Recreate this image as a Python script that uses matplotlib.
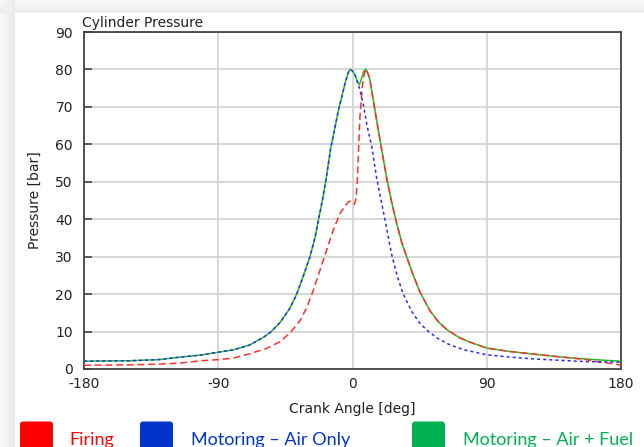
import numpy as np
import matplotlib
matplotlib.use("Agg")
import matplotlib.pyplot as plt
from matplotlib.patches import FancyBboxPatch
from matplotlib.transforms import IdentityTransform

# ---------------- data ----------------
air_angle = [-180, -150, -130, -115, -102, -93, -80, -69, -60, -55, -48.6, -42, -37.4, -33,
             -28.5, -25, -23, -20.2, -18, -14.6, -12, -9.5, -7, -5, -3, -1.7, 0, 1.7, 3.5,
             5, 7.3, 9.9, 12.9, 16.2, 20.7, 26.3, 30, 34, 40, 45, 50, 57, 65, 75, 90, 105,
             121, 140, 155, 170, 180]
air_p = [2.1, 2.2, 2.5, 3.2, 3.7, 4.3, 5.1, 6.4, 8.4, 9.8, 12.4, 16.2, 20, 24.8,
         30, 35.3, 39.5, 45, 50, 59, 64, 69, 73, 76.3, 79, 80, 79.6, 78.5, 76.5,
         74.5, 70.5, 64.7, 59.4, 51, 42, 30.5, 24.8, 20, 15.2, 12.3, 10.3, 8.2, 6.5, 5.1, 3.8, 3.2,
         2.7, 2.3, 2.0, 1.9, 1.8]

fuel_angle = [-180, -150, -130, -115, -102, -93, -80, -69, -60, -55, -48.6, -42, -37.4, -33,
              -28.5, -25, -23, -20.2, -18, -14.6, -12, -9.5, -7, -5, -3, -1.7, 0, 1.7, 3.5,
              4.6, 6, 7.5, 9, 10.5, 11.7, 14.6, 17.3, 19.6, 22.9, 26.3, 29.6, 33, 36.3, 40,
              45.3, 52, 58, 64, 72, 80, 90, 105, 121, 140, 155, 170, 180]
fuel_p = [2.1, 2.2, 2.5, 3.2, 3.7, 4.3, 5.1, 6.4, 8.4, 9.8, 12.4, 16.2, 20, 24.8,
          30, 35.3, 39.5, 45, 50, 59, 64, 69, 73, 76.3, 79, 80, 79.6, 78.5, 76.5,
          75.9, 77.5, 79.5, 80.1, 78.8, 77.2, 70.2, 63.8, 58.5, 51, 44.5, 38.9, 33.8, 30, 25.8,
          20.5, 15.5, 12.4, 10.3, 8.3, 7, 5.6, 4.7, 4.0, 3.2, 2.7, 2.3, 2.1]

fire_angle = [-180, -150, -130, -115, -102, -90, -80, -68.7, -57.5, -48.6, -41.9, -35.2, -30.7,
              -26.3, -21.8, -17.3, -12.9, -8.4, -5, -2.8, -1.5, 0, 1.3, 2.3, 3.2, 4.1, 5, 6,
              6.8, 8, 9, 10.5, 11.7, 14.6, 17.3, 19.6, 22.9, 26.3, 29.6, 33, 36.3, 40,
              45.3, 52, 58, 64, 72, 80, 90, 105, 121, 140, 150, 157, 166, 175, 180]
fire_p = [1.0, 1.1, 1.3, 1.6, 2.2, 2.5, 2.9, 4.1, 5.5, 7.3, 9.6, 12.9, 16.4,
          21.0, 26.4, 31.8, 37.1, 41.5, 43.5, 44.6, 44.8, 44.2, 44.0, 45.5, 50, 59, 67.4, 72.5,
          76.3, 79, 80.1, 78.8, 77.2, 70.2, 63.8, 58.5, 51, 44.5, 38.9, 33.8, 30, 25.8,
          20.5, 15.5, 12.4, 10.3, 8.3, 7, 5.6, 4.7, 4.0, 3.2, 2.8, 2.5, 1.8, 1.4, 1.0]

x_ticks = [-180, -90, 0, 90, 180]
y_ticks = [0, 10, 20, 30, 40, 50, 60, 70, 80, 90]
legend_labels = ["Firing", "Motoring \u2013 Air Only", "Motoring \u2013 Air + Fuel"]

# ---------------- figure ----------------
W, H = 644, 447
fig = plt.figure(figsize=(W / 100, H / 100), dpi=100)

# slide-like background with soft shadow at top and left
bg = np.ones((H, W))
yy, xx = np.mgrid[0:H, 0:W]
top = (yy < 13)
left = (xx < 15)
bg[top] = 0.97 - 0.05 * (yy[top] / 13.0)
bg[left] = np.minimum(bg[left], 0.97 - 0.06 * (xx[left] / 15.0))
ax_bg = fig.add_axes([0, 0, 1, 1], zorder=-10)
ax_bg.imshow(bg, cmap="gray", vmin=0, vmax=1, aspect="auto", extent=[0, W, H, 0])
ax_bg.axis("off")

ax = fig.add_axes([84 / W, 1 - 369 / H, 537 / W, 337 / H])
ax.set_facecolor("white")

font = "DejaVu Sans"
fs = 10

ax.plot(fuel_angle, fuel_p, color="#22c022", lw=1.1, zorder=3)
ax.plot(fire_angle, fire_p, color="#ff3030", lw=1.1, ls=(0, (4.5, 2.5)), zorder=4)
ax.plot(air_angle, air_p, color="#2a2aff", lw=1.1, ls=(0, (2, 2)), zorder=5)

ax.set_xlim(-180, 180)
ax.set_ylim(0, 90)
ax.set_xticks(x_ticks)
ax.set_yticks(y_ticks)
ax.set_xticklabels([str(v) for v in x_ticks], fontfamily=font, fontsize=fs, color="#222222")
ax.set_yticklabels([str(v) for v in y_ticks], fontfamily=font, fontsize=fs, color="#222222")
ax.tick_params(axis="y", direction="in", length=6, width=1.2, color="#444444", pad=8)
ax.tick_params(axis="x", direction="in", length=0, pad=6)
ax.grid(True, color="#d4d4d4", lw=1.3, zorder=0)
ax.set_axisbelow(True)
for s in ax.spines.values():
    s.set_color("#444444")
    s.set_linewidth(1.3)

ax.set_xlabel("Crank Angle [deg]", fontfamily=font, fontsize=fs, color="#222222", labelpad=8)
ax.set_ylabel("Pressure [bar]", fontfamily=font, fontsize=fs, color="#222222", labelpad=10)
ax.text(-0.003, 1.006, "Cylinder Pressure", transform=ax.transAxes, ha="left", va="bottom",
        fontfamily=font, fontsize=fs, color="#222222")

# legend (bottom, cut off by figure edge)
leg_colors = ["#ff0000", "#0033cc", "#00b050"]
sq_x = [20, 140, 412]
txt_x = [69, 191, 463]
for lab, c, sx, tx in zip(legend_labels, leg_colors, sq_x, txt_x):
    p = FancyBboxPatch((sx, -10), 33, 35.5, boxstyle="round,pad=0,rounding_size=3",
                       transform=IdentityTransform(), facecolor=c, edgecolor="none")
    fig.add_artist(p)
    fig.text(tx / W, 2 / H, lab, fontfamily="Lato", fontsize=13, color=c,
             ha="left", va="baseline")

fig.savefig("out.png", dpi=100)
